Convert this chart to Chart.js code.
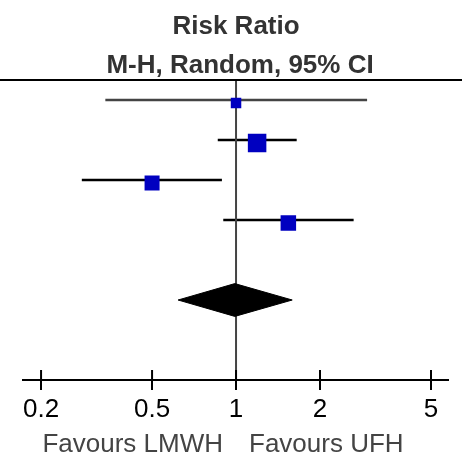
<!DOCTYPE html>
<html>
<head>
<meta charset="utf-8">
<script src="https://cdn.jsdelivr.net/npm/chart.js@4.4.1/dist/chart.umd.min.js"></script>
<style>
    html, body { margin: 0; padding: 0; background: #fff; }
    #wrap { width: 462px; height: 457px; }
</style>
</head>
<body>
<div id="wrap"><canvas id="forest"></canvas></div>
<script>
// Risk ratio per study, M-H random, 95% CI
const studyRR = [1.00, 1.19, 0.50, 1.54];
const studyLow = [0.34, 0.86, 0.28, 0.90];
const studyHigh = [2.95, 1.65, 0.89, 2.64];
const studyWeight = [12.0, 37.3, 24.5, 26.2];   // % weight, box area follows it
const studyRow = [0.5, 1.5, 2.5, 3.5];

// pooled: estimate, low, high
const pooledRR = [0.99, 0.62, 1.59];
const pooledRow = 5.5;

const tickValues = [0.2, 0.5, 1, 2, 5];
const titleLines = ['Risk Ratio', 'M-H, Random, 95% CI'];
const favoursText = ['Favours LMWH', 'Favours UFH'];

const fontFamily = "'Liberation Sans', Arial, Helvetica, sans-serif";

// horizontal CI lines
const ciSets = studyRR.map((rr, i) => ({
    data: [{ x: studyLow[i], y: studyRow[i] }, { x: studyHigh[i], y: studyRow[i] }],
    showLine: true,
    borderColor: i === 0 ? '#444' : '#000',
    borderWidth: 2.5,
    pointRadius: 0,
    order: 3
}));

const noEffect = {
    data: [{ x: 1, y: 0 }, { x: 1, y: 7.5 }],
    showLine: true,
    borderColor: '#444',
    borderWidth: 2,
    pointRadius: 0,
    order: 2
};

const diamondHalf = 0.41;
const diamond = {
    data: [
        { x: pooledRR[1], y: pooledRow },
        { x: pooledRR[0], y: pooledRow - diamondHalf },
        { x: pooledRR[2], y: pooledRow },
        { x: pooledRR[0], y: pooledRow + diamondHalf },
        { x: pooledRR[1], y: pooledRow }
    ],
    showLine: true,
    fill: 'shape',
    backgroundColor: '#000',
    borderColor: '#000',
    borderWidth: 1,
    pointRadius: 0,
    order: 1
};

const boxes = {
    data: studyRR.map((rr, i) => ({ x: rr, y: studyRow[i] + 0.075 })),
    pointStyle: 'rect',
    pointRadius: studyWeight.map(w => Math.sqrt(w) * 3.03 / Math.SQRT2),
    backgroundColor: '#0000c0',
    borderWidth: 0,
    order: 0
};

// heading, top rule, upper half of the ticks, favours labels
const forestExtras = {
    id: 'forestExtras',
    afterDraw(chart) {
        const ctx = chart.ctx;
        const area = chart.chartArea;
        const xs = chart.scales.x;
        const x1 = xs.getPixelForValue(1);
        ctx.save();

        ctx.fillStyle = '#333';
        ctx.font = 'bold 26px ' + fontFamily;
        ctx.textAlign = 'center';
        ctx.textBaseline = 'alphabetic';
        ctx.fillText(titleLines[0], x1, 34);
        ctx.fillText(titleLines[1], x1 + 4, 72.5);

        ctx.strokeStyle = '#000';
        ctx.lineWidth = 2;
        ctx.beginPath();
        ctx.moveTo(0, area.top);
        ctx.lineTo(chart.width, area.top);
        ctx.stroke();

        ctx.beginPath();
        tickValues.forEach(v => {
            const px = xs.getPixelForValue(v);
            ctx.moveTo(px, area.bottom - 10);
            ctx.lineTo(px, area.bottom);
        });
        ctx.stroke();

        ctx.fillStyle = '#444';
        ctx.font = '26px ' + fontFamily;
        ctx.textAlign = 'right';
        ctx.fillText(favoursText[0], x1 - 13, 451.5);
        ctx.textAlign = 'left';
        ctx.fillText(favoursText[1], x1 + 13, 451.5);
        ctx.restore();
    }
};

new Chart(document.getElementById('forest'), {
    type: 'scatter',
    data: { datasets: [...ciSets, noEffect, diamond, boxes] },
    options: {
        responsive: true,
        maintainAspectRatio: false,
        animation: false,
        layout: { padding: { left: 23, right: 14, top: 80, bottom: 0 } },
        plugins: {
            legend: { display: false },
            tooltip: { enabled: false },
            title: { display: false }
        },
        scales: {
            x: {
                type: 'logarithmic',
                min: 0.1723,
                max: 5.753,
                afterBuildTicks: s => { s.ticks = tickValues.map(v => ({ value: v })); },
                afterFit: s => { s.height = 77; },
                border: { display: true, color: '#000', width: 2 },
                grid: { drawOnChartArea: false, drawTicks: true, tickLength: 10, color: '#000', lineWidth: 2 },
                ticks: {
                    color: '#000',
                    font: { family: fontFamily, size: 26 },
                    padding: 4,
                    autoSkip: false,
                    maxRotation: 0,
                    callback: v => String(v)
                }
            },
            y: { type: 'linear', min: 0, max: 7.5, reverse: true, display: false }
        }
    },
    plugins: [forestExtras]
});
</script>
</body>
</html>
